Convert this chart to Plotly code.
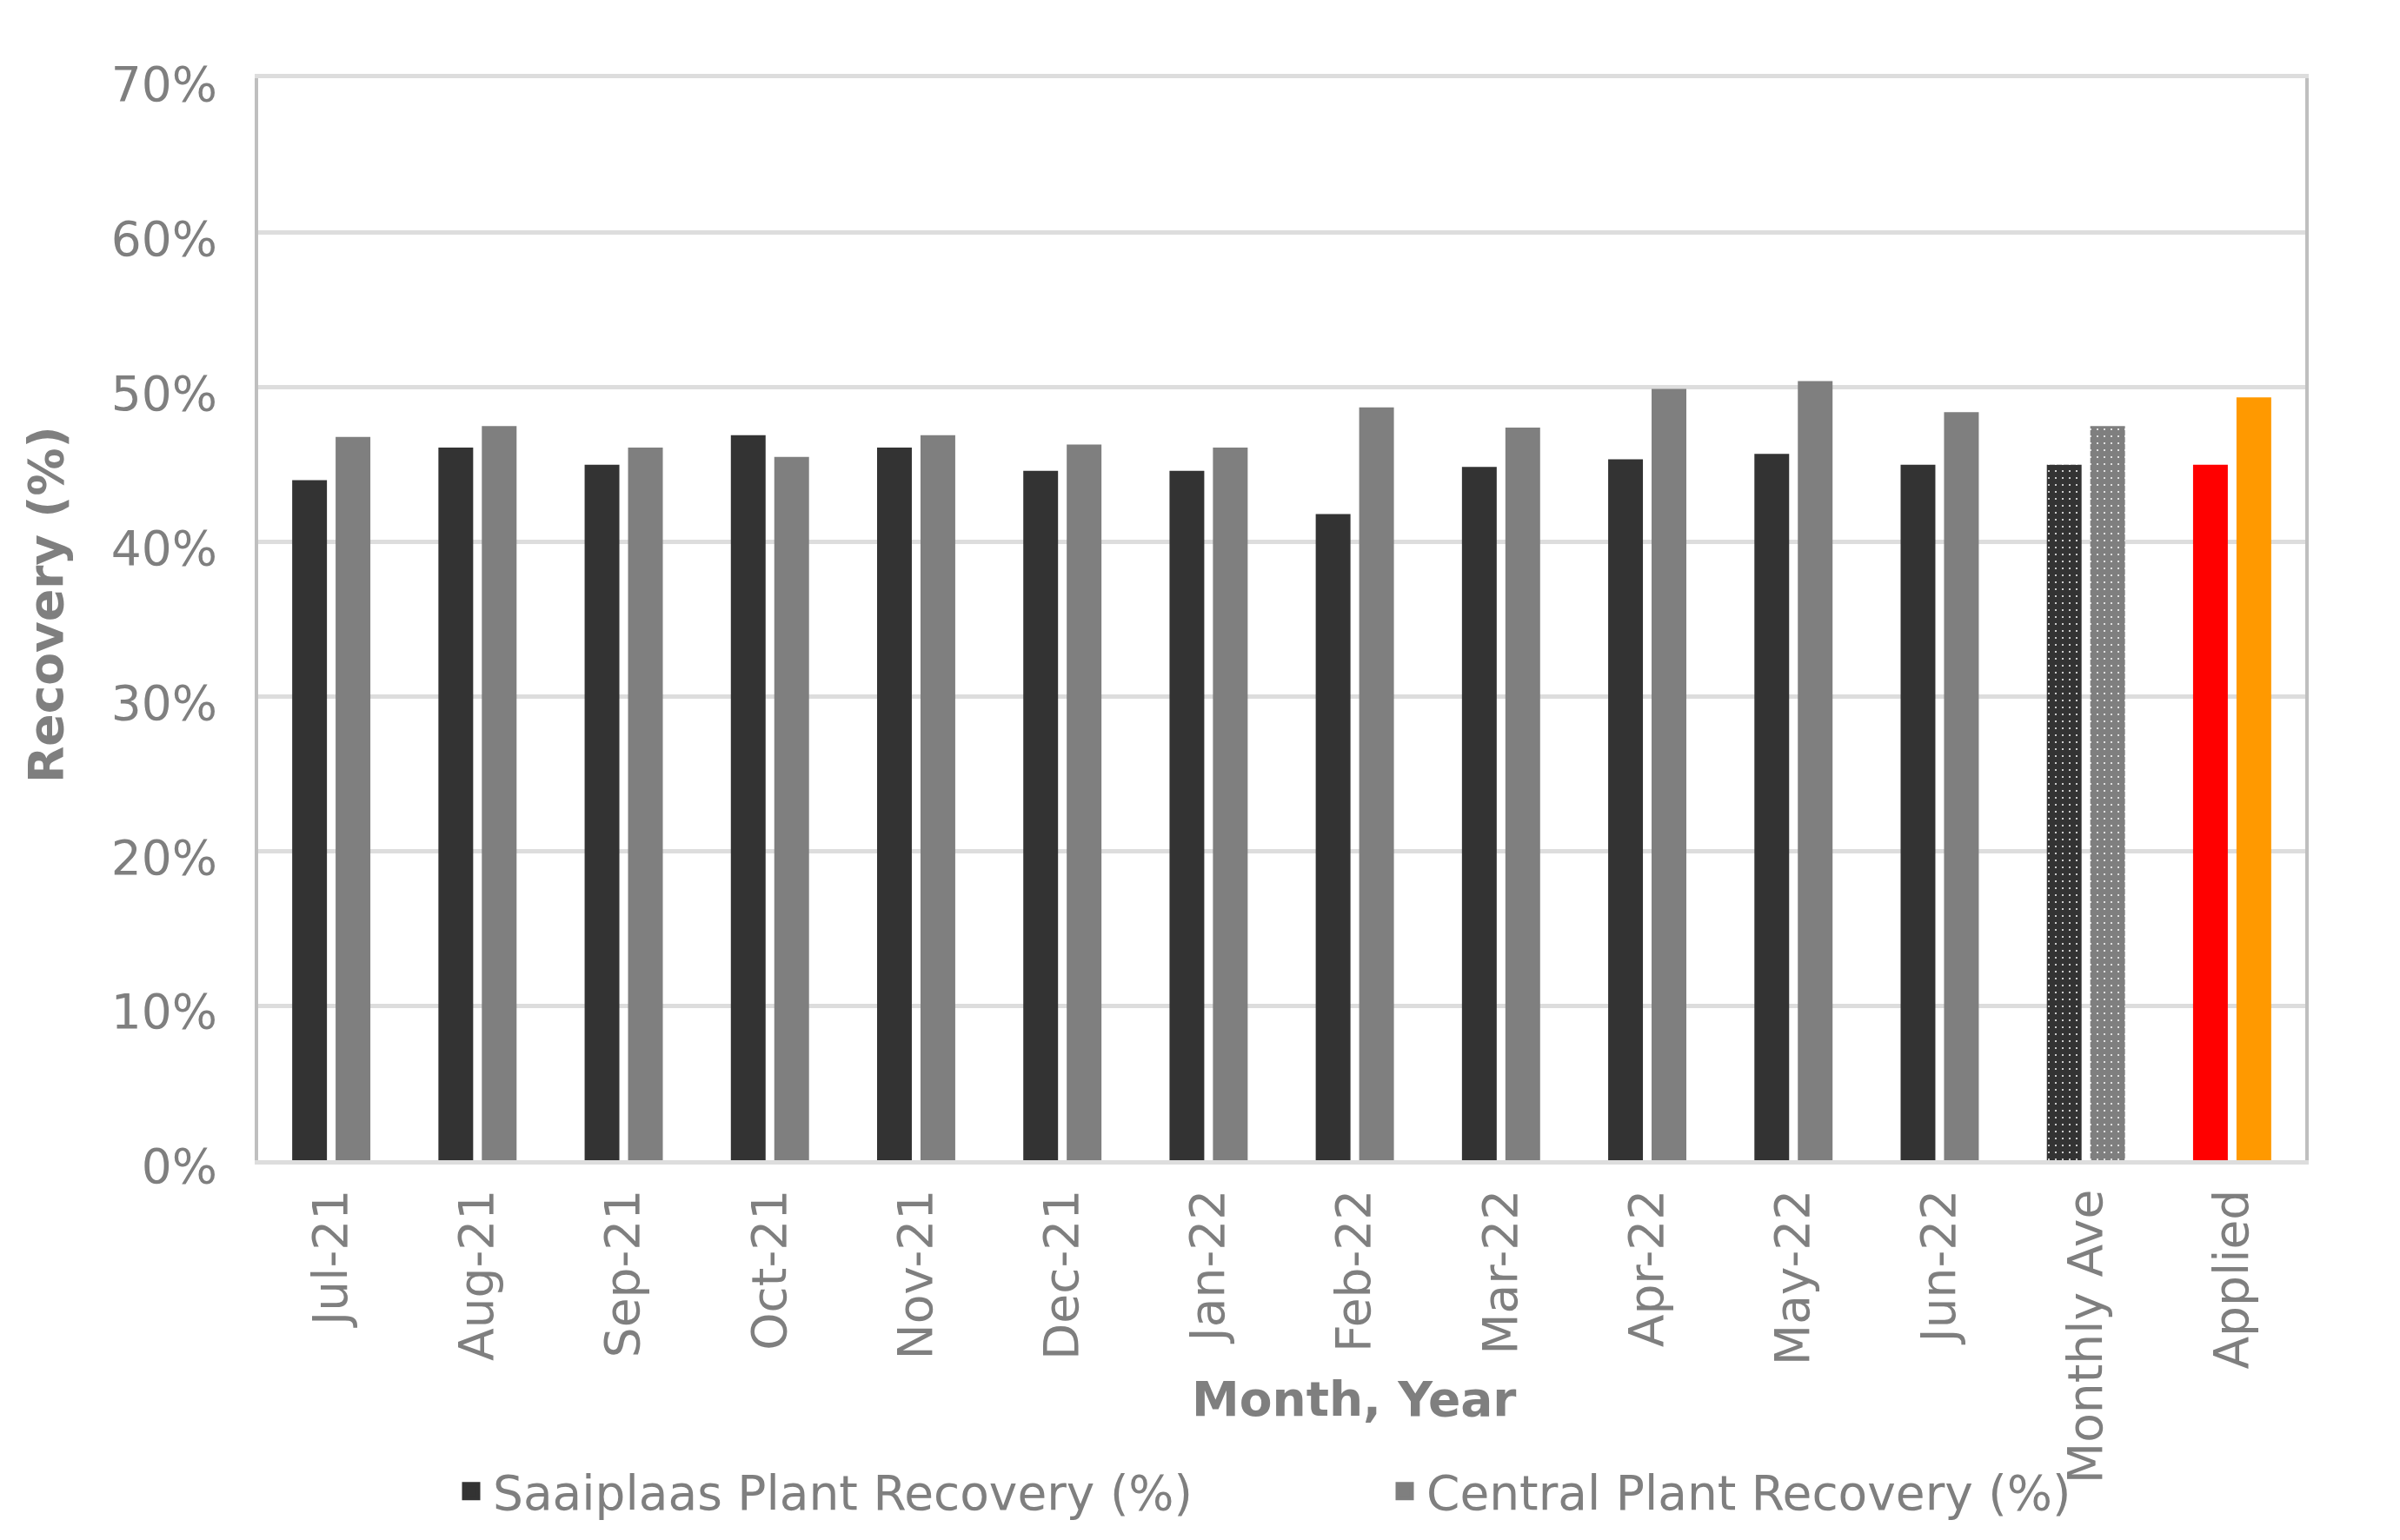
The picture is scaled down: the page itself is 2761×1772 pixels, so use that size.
import plotly.graph_objects as go

categories = ["Jul-21", "Aug-21", "Sep-21", "Oct-21", "Nov-21", "Dec-21", "Jan-22",
              "Feb-22", "Mar-22", "Apr-22", "May-22", "Jun-22", "Monthly Ave", "Applied"]
saaiplaas = [44.0, 46.1, 45.0, 46.9, 46.1, 44.6, 44.6, 41.8, 44.85, 45.35, 45.7, 45.0, 45.0, 45.0]
central = [46.8, 47.5, 46.1, 45.5, 46.9, 46.3, 46.1, 48.7, 47.4, 49.9, 50.4, 48.4, 47.5, 49.35]
y_ticks = [0, 10, 20, 30, 40, 50, 60, 70]
y_tick_labels = ["0%", "10%", "20%", "30%", "40%", "50%", "60%", "70%"]
series_names = ["Saaiplaas Plant Recovery (%)", "Central Plant Recovery (%)"]

DARK = "#333333"
GRAY = "#7F7F7F"
n = len(categories)
sa_colors = [DARK] * (n - 1) + ["#FF0000"]
ce_colors = [GRAY] * (n - 1) + ["#FF9900"]
shapes = [""] * (n - 2) + [".", ""]

FONT = "DejaVu Sans"
TXT = "#7F7F7F"

fig = go.Figure()
for vals, cols, name in [(saaiplaas, sa_colors, series_names[0]),
                         (central, ce_colors, series_names[1])]:
    fig.add_trace(go.Bar(
        x=categories, y=vals, name=name, showlegend=False, legendgroup=name,
        marker=dict(color=cols, line=dict(width=0),
                    pattern=dict(shape=shapes, fgcolor="white", size=8, solidity=0.05,
                                 fillmode="overlay", fgopacity=1)),
    ))
for base, name in [(DARK, series_names[0]), (GRAY, series_names[1])]:
    fig.add_trace(go.Scatter(
        x=[None], y=[None], mode="markers", name=name, legendgroup=name,
        marker=dict(symbol="square", size=16, color=base, line=dict(width=5, color=base)),
        hoverinfo="skip",
    ))

# page body has an 8px margin: shift everything by it
OFF = 8
W, H = 2761 - 2 * OFF, 1772 - 2 * OFF
PL, PR, PT, PB = 297 - OFF, 2652 - OFF, 90 - OFF, 1335 - OFF
L, R, T, B = PL, W - PR, PT, H - PB
pw, ph = PR - PL, PB - PT

fig.update_layout(
    width=W, height=H,
    margin=dict(l=L, r=R, t=T, b=B, pad=0, autoexpand=False),
    paper_bgcolor="white", plot_bgcolor="white",
    barmode="group", bargap=0.406, bargroupgap=0.2,
    font=dict(family=FONT, size=55, color=TXT),
    showlegend=True,
    legend=dict(orientation="h", x=(517 - OFF - PL) / pw, xanchor="left",
                y=(PB - (1716 - OFF)) / ph, yanchor="middle",
                font=dict(family=FONT, size=55, color=TXT),
                entrywidth=1019, entrywidthmode="pixels", itemsizing="trace", itemwidth=40,
                bgcolor="rgba(0,0,0,0)", traceorder="normal"),
)
fig.update_xaxes(
    type="category", tickangle=-90, automargin=False,
    tickfont=dict(family=FONT, size=55, color=TXT),
    ticks="outside", ticklen=7, tickcolor="rgba(0,0,0,0)",
    showline=True, linecolor="#DDDDDD", linewidth=4.5, mirror=True,
    showgrid=False, zeroline=False,
)
fig.update_yaxes(
    range=[0, 70], tickvals=y_ticks, ticktext=y_tick_labels, automargin=False,
    tickfont=dict(family=FONT, size=55, color=TXT),
    ticks="outside", ticklen=32, tickcolor="rgba(0,0,0,0)", ticklabelshift=7,
    showline=True, linecolor="#BFBFBF", linewidth=4, mirror=True,
    showgrid=True, gridcolor="#DDDDDD", gridwidth=4.5, zeroline=False,
)
fig.add_annotation(
    text="<b>Recovery (%)</b>", xref="paper", yref="paper", textangle=-90,
    x=(53 - OFF - PL) / pw, y=(PB - (696 - OFF)) / ph,
    xanchor="center", yanchor="middle", showarrow=False,
    font=dict(family=FONT, size=55, color=TXT),
)
fig.add_annotation(
    text="<b>Month, Year</b>", xref="paper", yref="paper",
    x=(1557 - OFF - PL) / pw, y=(PB - (1610 - OFF)) / ph,
    xanchor="center", yanchor="middle", showarrow=False,
    font=dict(family=FONT, size=55, color=TXT),
)
fig.write_html("out.html")
